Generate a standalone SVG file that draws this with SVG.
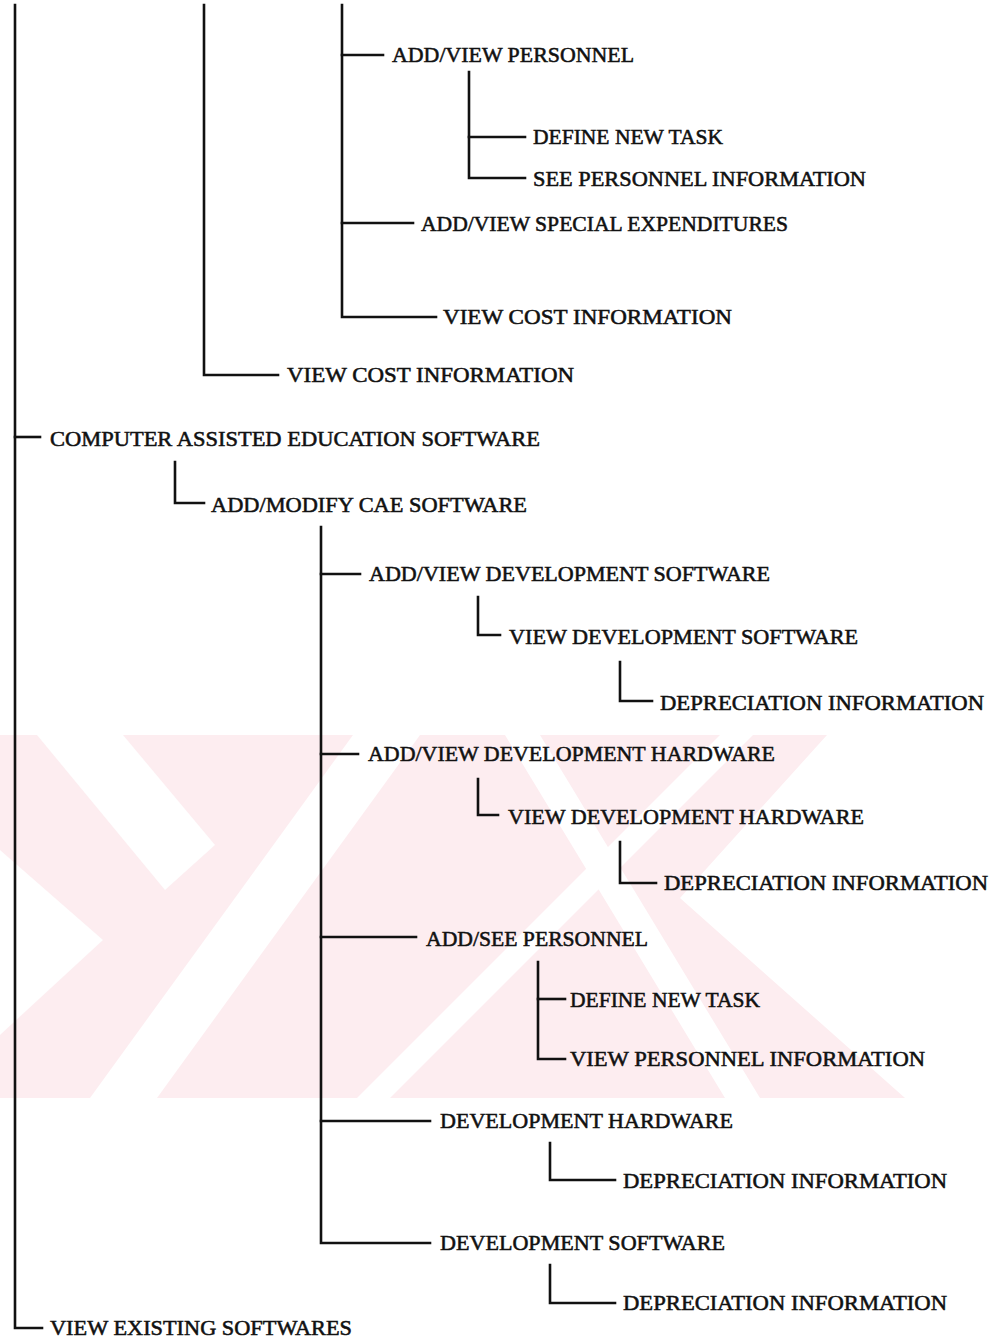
<svg xmlns="http://www.w3.org/2000/svg" width="995" height="1341" viewBox="0 0 995 1341">
  <style>
    .lbl { font-family: "Liberation Serif", "Times New Roman", serif; font-size: 22px; fill: #111; stroke: #111; stroke-width: 0.55; }
    .wire { fill: none; stroke: #111; stroke-width: 2.6; stroke-linecap: square; }
    .wm { fill: #fdedf0; }
    .wmw { fill: #ffffff; }
  </style>
  <rect width="995" height="1341" fill="#ffffff"/>

  <!-- faint background emblem -->
  <g id="emblem">
    <polygon class="wm" points="0,735 827,735 680,898 905,1098 0,1098"/>
    <polygon class="wmw" points="37,735 123,735 215,845 165,890"/>
    <polygon class="wmw" points="0,850 103,940 0,1035"/>
    <polygon class="wmw" points="90,1098 157,1098 420,735 353,735"/>
    <polygon class="wmw" points="720,735 753,735 390,1098 357,1098"/>
    <polygon class="wmw" points="505,735 540,735 760,1098 725,1098"/>
  </g>

  <g id="connectors">
    <path class="wire" d="M15,5 V1328 H42"/>
    <path class="wire" d="M15,437 H40"/>
    <path class="wire" d="M204,5 V375 H278"/>
    <path class="wire" d="M342,5 V317 H436"/>
    <path class="wire" d="M342,55 H383"/>
    <path class="wire" d="M342,223 H413"/>
    <path class="wire" d="M469,72 V178 H525"/>
    <path class="wire" d="M469,137 H525"/>
    <path class="wire" d="M175,462 V503 H204"/>
    <path class="wire" d="M321,527 V1243 H430"/>
    <path class="wire" d="M321,574 H360"/>
    <path class="wire" d="M321,754 H358"/>
    <path class="wire" d="M321,937 H416"/>
    <path class="wire" d="M321,1121 H430"/>
    <path class="wire" d="M478,597 V635 H500"/>
    <path class="wire" d="M620,662 V701 H652"/>
    <path class="wire" d="M478,779 V815 H498"/>
    <path class="wire" d="M620,842 V883 H656"/>
    <path class="wire" d="M538,962 V1059 H565"/>
    <path class="wire" d="M538,999 H565"/>
    <path class="wire" d="M550,1143 V1180 H615"/>
    <path class="wire" d="M550,1265 V1303 H615"/>
  </g>

  <g id="n-add-view-personnel"><text class="lbl" x="392" y="62" textLength="242" lengthAdjust="spacingAndGlyphs">ADD/VIEW PERSONNEL</text></g>
  <g id="n-define-task-1"><text class="lbl" x="533" y="144" textLength="190" lengthAdjust="spacingAndGlyphs">DEFINE NEW TASK</text></g>
  <g id="n-see-personnel-info"><text class="lbl" x="533" y="186" textLength="333" lengthAdjust="spacingAndGlyphs">SEE PERSONNEL INFORMATION</text></g>
  <g id="n-special-expenditures"><text class="lbl" x="421" y="231" textLength="367" lengthAdjust="spacingAndGlyphs">ADD/VIEW SPECIAL EXPENDITURES</text></g>
  <g id="n-view-cost-inner"><text class="lbl" x="443" y="324" textLength="289" lengthAdjust="spacingAndGlyphs">VIEW COST INFORMATION</text></g>
  <g id="n-view-cost-outer"><text class="lbl" x="287" y="382" textLength="287" lengthAdjust="spacingAndGlyphs">VIEW COST INFORMATION</text></g>
  <g id="n-cae-software"><text class="lbl" x="50" y="446" textLength="490" lengthAdjust="spacingAndGlyphs">COMPUTER ASSISTED EDUCATION SOFTWARE</text></g>
  <g id="n-add-modify-cae"><text class="lbl" x="211" y="512" textLength="316" lengthAdjust="spacingAndGlyphs">ADD/MODIFY CAE SOFTWARE</text></g>
  <g id="n-add-view-dev-sw"><text class="lbl" x="369" y="581" textLength="401" lengthAdjust="spacingAndGlyphs">ADD/VIEW DEVELOPMENT SOFTWARE</text></g>
  <g id="n-view-dev-sw"><text class="lbl" x="509" y="644" textLength="349" lengthAdjust="spacingAndGlyphs">VIEW DEVELOPMENT SOFTWARE</text></g>
  <g id="n-depr-1"><text class="lbl" x="660" y="710" textLength="324" lengthAdjust="spacingAndGlyphs">DEPRECIATION INFORMATION</text></g>
  <g id="n-add-view-dev-hw"><text class="lbl" x="368" y="761" textLength="407" lengthAdjust="spacingAndGlyphs">ADD/VIEW DEVELOPMENT HARDWARE</text></g>
  <g id="n-view-dev-hw"><text class="lbl" x="508" y="824" textLength="356" lengthAdjust="spacingAndGlyphs">VIEW DEVELOPMENT HARDWARE</text></g>
  <g id="n-depr-2"><text class="lbl" x="664" y="890" textLength="324" lengthAdjust="spacingAndGlyphs">DEPRECIATION INFORMATION</text></g>
  <g id="n-add-see-personnel"><text class="lbl" x="426" y="946" textLength="222" lengthAdjust="spacingAndGlyphs">ADD/SEE PERSONNEL</text></g>
  <g id="n-define-task-2"><text class="lbl" x="570" y="1007" textLength="190" lengthAdjust="spacingAndGlyphs">DEFINE NEW TASK</text></g>
  <g id="n-view-personnel-info"><text class="lbl" x="570" y="1066" textLength="355" lengthAdjust="spacingAndGlyphs">VIEW PERSONNEL INFORMATION</text></g>
  <g id="n-dev-hw"><text class="lbl" x="440" y="1128" textLength="293" lengthAdjust="spacingAndGlyphs">DEVELOPMENT HARDWARE</text></g>
  <g id="n-depr-3"><text class="lbl" x="623" y="1188" textLength="324" lengthAdjust="spacingAndGlyphs">DEPRECIATION INFORMATION</text></g>
  <g id="n-dev-sw"><text class="lbl" x="440" y="1250" textLength="285" lengthAdjust="spacingAndGlyphs">DEVELOPMENT SOFTWARE</text></g>
  <g id="n-depr-4"><text class="lbl" x="623" y="1310" textLength="324" lengthAdjust="spacingAndGlyphs">DEPRECIATION INFORMATION</text></g>
  <g id="n-view-existing"><text class="lbl" x="50" y="1335" textLength="302" lengthAdjust="spacingAndGlyphs">VIEW EXISTING SOFTWARES</text></g>
</svg>
